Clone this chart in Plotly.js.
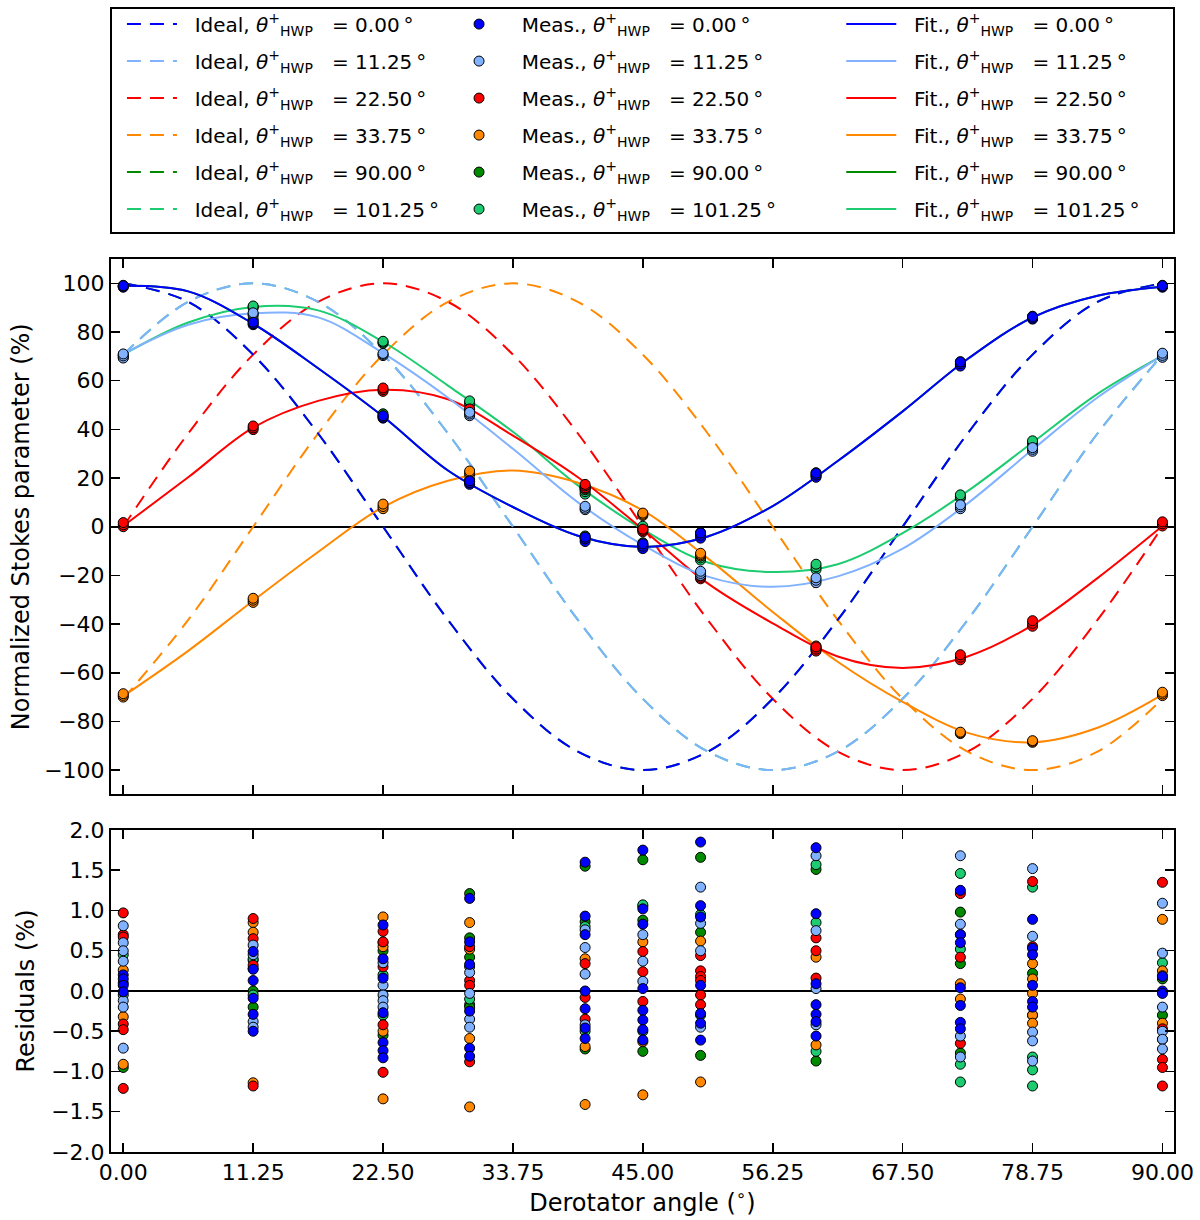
<!DOCTYPE html>
<html>
<head>
<meta charset="utf-8">
<script src="https://cdn.plot.ly/plotly-3.0.1.min.js"></script>
<style>
  html, body { margin: 0; padding: 0; background: #ffffff; }
  #chart { width: 1200px; height: 1220px; }
</style>
</head>
<body>
<div id="chart"></div>
<script>
// ---------------- DATA ----------------
const hwpLabels = ['0.00', '11.25', '22.50', '33.75', '90.00', '101.25'];
const seriesColors = ['#0000ff', '#80b2ff', '#ff0000', '#ff8800', '#008a00', '#1dcc70'];

// x positions for the model curves (derotator angle, deg)
const curveX = [0, 5.625, 11.25, 16.875, 22.5, 28.125, 33.75, 39.375, 45, 50.625, 56.25, 61.875, 67.5, 73.125, 78.75, 84.375, 90];

// Ideal curves (%)
const ideal0   = [100, 92.4, 70.7, 38.3, 0, -38.3, -70.7, -92.4, -100, -92.4, -70.7, -38.3, 0, 38.3, 70.7, 92.4, 100];
const ideal11  = [70.7, 92.4, 100, 92.4, 70.7, 38.3, 0, -38.3, -70.7, -92.4, -100, -92.4, -70.7, -38.3, 0, 38.3, 70.7];
const ideal22  = [0, 38.3, 70.7, 92.4, 100, 92.4, 70.7, 38.3, 0, -38.3, -70.7, -92.4, -100, -92.4, -70.7, -38.3, 0];
const ideal33  = [-70.7, -38.3, 0, 38.3, 70.7, 92.4, 100, 92.4, 70.7, 38.3, 0, -38.3, -70.7, -92.4, -100, -92.4, -70.7];
const ideal90  = [100, 92.4, 70.7, 38.3, 0, -38.3, -70.7, -92.4, -100, -92.4, -70.7, -38.3, 0, 38.3, 70.7, 92.4, 100];
const ideal101 = [70.7, 92.4, 100, 92.4, 70.7, 38.3, 0, -38.3, -70.7, -92.4, -100, -92.4, -70.7, -38.3, 0, 38.3, 70.7];

// Fitted curves (%)
const fit0   = [99, 96.7, 83.4, 65.1, 45.3, 23.1, 8.1, -3.7, -8.3, -4.0, 8.5, 27.0, 47.4, 68.9, 86, 94.9, 98.6];
const fit11  = [71, 83, 87.7, 86, 71.3, 53, 32, 10, -7.5, -20.5, -24.7, -20.4, -9, 9.6, 31.7, 53.1, 70.3];
const fit22  = [0.3, 20.3, 40.7, 51.7, 56.3, 52.4, 37.4, 20.3, -1.1, -23.3, -39.7, -53.3, -58, -53.3, -40.4, -21.1, 0.3];
const fit33  = [-69.6, -51.0, -30.4, -10.4, 8.1, 18.9, 23.1, 18.1, 6.7, -13, -35, -55.5, -72, -84.7, -88.6, -82.6, -69];
const fit90  = [99, 96.7, 83.4, 65.1, 45.3, 23.1, 8.1, -3.7, -8.3, -4.0, 8.5, 27.0, 47.4, 68.9, 86, 94.9, 98.6];
const fit101 = [70.7, 83.9, 90.3, 88.9, 76, 58, 39, 17, -1.1, -14.7, -18.6, -15.4, -2.6, 14.6, 34.6, 54.6, 70.3];

// Measurement derotator angles (deg)
const measX = [0, 11.25, 22.5, 30, 40, 45, 50, 60, 72.5, 78.75, 90];

// Measured normalized Stokes parameter (%), repeated measurements per angle
const meas0 = [[98.4, 98.8, 99.0], [83.0, 83.4, 84.0], [44.6, 45.0, 45.6], [17.4, 18.0, 18.8], [-6.1, -5.0, -4.3], [-9.0, -8.0, -7.0],
  [-4.7, -3.5, -2.6], [20.3, 21.2, 22.0], [66.0, 67.0, 67.7], [85.3, 85.8, 86.3], [98.4, 98.8, 99.0]];
const meas11 = [[69.3, 70.2, 71.0], [86.8, 87.4, 87.9], [70.3, 70.8, 71.2], [45.6, 46.3, 47.0], [7.0, 7.6, 8.4], [-8.6, -8.0, -7.4],
  [-20.0, -19.2, -18.3], [-23.0, -22.0, -21.0], [7.4, 8.2, 9.0], [31.0, 31.8, 32.5], [69.6, 70.4, 71.3]];
const meas22 = [[0.0, 0.8, 1.7], [39.9, 40.6, 41.4], [55.6, 56.3, 57.0], [47.5, 48.0, 48.4], [16.0, 16.8, 17.4], [-2.1, -1.5, -1.0],
  [-21.4, -20.8, -20.2], [-51.1, -50.3, -49.4], [-54.7, -53.6, -52.6], [-40.9, -39.7, -38.6], [0.3, 1.2, 2.0]];
const meas33 = [[-70.0, -69.3, -68.6], [-31.1, -30.2, -29.4], [7.4, 8.3, 9.3], [21.4, 22.2, 22.9], [15.5, 16.0, 16.3], [4.6, 5.1, 5.6],
  [-12.0, -11.5, -10.9], [-50.5, -49.8, -49.0], [-85.0, -84.7, -84.4], [-88.6, -88.2, -87.9], [-69.4, -68.7, -68.0]];
const meas90 = [[98.6, 99.2], [84.6, 85.3], [45.5, 46.4], [18.6, 19.3], [-4.5, -3.8], [-7.4, -6.6],
  [-3.2, -2.4], [21.0, 22.2], [66.5, 67.8], [85.5, 86.5], [98.6, 99.2]];
const meas101 = [[69.5, 70.3, 70.8], [89.8, 90.3, 90.7], [75.3, 75.8, 76.2], [50.3, 51.0, 51.7], [13.4, 14.4, 15.2], [-1.2, -0.4, 0.2],
  [-13.7, -12.8, -12.0], [-17.6, -16.5, -15.4], [11.7, 12.4, 13.1], [33.9, 34.6, 35.3], [69.8, 70.5, 71.0]];

// Residuals (%) per angle
const res0 = [[0.20, 0.15, 0.07, -0.01], [0.49, 0.27, 0.13, -0.09, -0.29, -0.50], [0.82, 0.40, 0.16, -0.27, -0.64, -0.74, -0.83],
  [1.15, 0.61, 0.33, -0.25, -0.71, -0.81], [1.60, 0.93, 0.70, 0.00, -0.22, -0.46, -0.59], [1.75, 1.02, 0.83, 0.03, -0.24, -0.36, -0.48, -0.61],
  [1.85, 1.06, 0.92, 0.07, -0.28, -0.40, -0.61], [1.78, 0.96, 0.09, -0.17, -0.29, -0.38, -0.56], [1.25, 0.70, 0.60, 0.04, -0.18, -0.39, -0.47],
  [0.89, 0.53, 0.45, 0.07, -0.13, -0.20], [0.18, 0.00, -0.03]];
const res11 = [[0.81, 0.60, 0.50, 0.37, -0.12, -0.20, -0.71], [0.57, 0.45, -0.38, -0.45], [0.35, 0.07, -0.05, -0.12, -0.20],
  [0.23, -0.03, -0.35, -0.45], [0.76, 0.54, 0.21, -0.42], [0.70, 0.37, 0.12], [1.29, 0.84, 0.50, -0.45], [1.68, 0.75, 0.03, -0.42],
  [1.68, 0.83, 0.70, -0.56, -0.82], [1.52, 0.68, -0.51, -0.62, -0.87], [1.09, 0.47, -0.20, -0.50, -0.60, -0.72]];
const res22 = [[0.97, 0.70, 0.67, -0.41, -0.48, -1.21], [0.90, 0.65, 0.32, -1.18], [0.74, 0.61, 0.30, -0.42, -1.01], [0.55, 0.13, 0.07, -0.88],
  [0.34, -0.08, -0.35], [0.49, 0.24, -0.13], [0.44, 0.25, 0.18, 0.13, -0.05, -0.17], [0.66, 0.50, 0.16], [1.21, 0.42, -0.65],
  [1.36, 0.55], [1.35, -0.47, -0.85, -0.95, -1.18]];
const res33 = [[0.26, -0.32, -0.91], [0.85, 0.73, 0.28, -1.14], [0.92, 0.60, 0.55, -0.50, -1.34], [0.85, 0.52, -0.59, -1.44],
  [0.40, -0.69, -1.41], [0.61, -0.63, -1.29], [0.62, -1.13], [0.42, -0.67], [0.09, -0.10], [0.34, 0.15, -0.03, -0.30, -0.40],
  [0.89, 0.25, 0.19, -0.40]];
const res90 = [[0.10, -0.95], [0.38, 0.00, -0.20], [0.50, -0.55], [1.21, 0.66, 0.42, -0.17, -0.20], [1.55, 0.86, -0.72],
  [1.63, 1.05, 0.88, -0.75], [1.66, 0.73, -0.80], [1.51, -0.87], [0.98, 0.34, -0.77], [0.22, -0.30], [0.15, -0.30]];
const res101 = [[0.45, -0.05], [0.40, -0.05], [0.20, -0.30], [0.30, -0.10], [0.80, -0.50], [1.07, -0.50], [0.95, -0.30],
  [1.57, 0.85, -0.75], [1.46, 0.52, -0.91, -1.13], [1.29, -0.82, -0.98, -1.18], [0.35, -0.60]];

const xTickVals = [0, 11.25, 22.5, 33.75, 45, 56.25, 67.5, 78.75, 90];

// ---------------- BUILD ----------------
const idealSets = [ideal0, ideal11, ideal22, ideal33, ideal90, ideal101];
const fitSets = [fit0, fit11, fit22, fit33, fit90, fit101];
const measSets = [meas0, meas11, meas22, meas33, meas90, meas101];
const resSets = [res0, res11, res22, res33, res90, res101];
const drawOrder = [4, 5, 3, 2, 1, 0];

function flatten(sets) {
  const xs = [], ys = [];
  sets.forEach((vals, i) => vals.forEach(v => { xs.push(measX[i]); ys.push(v); }));
  return {x: xs, y: ys};
}
const NB = '\u00a0';
function label(kind, i) {
  return NB + NB + kind + ', <i>θ</i><sup>+</sup><sub>HWP</sub>' + NB + NB + NB + '= ' + hwpLabels[i] + '\u2009°';
}

const traces = [];
drawOrder.forEach(i => {
  traces.push({
    type: 'scatter', mode: 'lines', x: curveX, y: idealSets[i],
    line: {color: seriesColors[i], width: 2, dash: '14px,9px', shape: 'spline', smoothing: 1},
    name: label('Ideal', i), legend: 'legend', legendgroup: 'i' + i, legendrank: i + 1,
    xaxis: 'x', yaxis: 'y', hoverinfo: 'skip'
  });
});
drawOrder.forEach(i => {
  traces.push({
    type: 'scatter', mode: 'lines', x: curveX, y: fitSets[i],
    line: {color: seriesColors[i], width: 2, shape: 'spline', smoothing: 1},
    name: label('Fit.', i), legend: 'legend3', legendgroup: 'f' + i, legendrank: i + 1,
    xaxis: 'x', yaxis: 'y', hoverinfo: 'skip'
  });
});
drawOrder.forEach(i => {
  const f = flatten(measSets[i]);
  traces.push({
    type: 'scatter', mode: 'markers', x: f.x, y: f.y,
    marker: {color: seriesColors[i], size: 10, line: {color: '#000000', width: 1}},
    name: label('Meas.', i), legend: 'legend2', legendgroup: 'm' + i, legendrank: i + 1,
    xaxis: 'x', yaxis: 'y', hoverinfo: 'skip'
  });
});
drawOrder.forEach(i => {
  const f = flatten(resSets[i]);
  traces.push({
    type: 'scatter', mode: 'markers', x: f.x, y: f.y,
    marker: {color: seriesColors[i], size: 10, line: {color: '#000000', width: 1}},
    showlegend: false, xaxis: 'x2', yaxis: 'y2', hoverinfo: 'skip'
  });
});

const tickFont = {family: 'DejaVu Sans, sans-serif', size: 22, color: '#000000'};
const titleFont = {family: 'DejaVu Sans, sans-serif', size: 24, color: '#000000'};
const axisCommon = {
  showline: true, linecolor: '#000000', linewidth: 2, mirror: 'ticks',
  ticks: 'inside', ticklen: 9, tickwidth: 1.5, tickcolor: '#000000',
  showgrid: false, tickfont: tickFont
};
const legendCommon = {
  orientation: 'v', borderwidth: 0, bgcolor: 'rgba(0,0,0,0)', font: {family: 'DejaVu Sans, sans-serif', size: 20, color: '#000'},
  tracegroupgap: 8, itemwidth: 50, yanchor: 'top', y: 1.2849, xanchor: 'left', traceorder: 'grouped'
};

const layout = {
  width: 1200, height: 1220,
  margin: {l: 111, r: 26, t: 259, b: 68, autoexpand: false},
  paper_bgcolor: '#ffffff', plot_bgcolor: '#ffffff',
  font: tickFont,
  showlegend: true,
  legend: Object.assign({}, legendCommon, {x: 0.0103}),
  legend2: Object.assign({}, legendCommon, {x: 0.318}),
  legend3: Object.assign({}, legendCommon, {x: 0.687}),
  xaxis: Object.assign({}, axisCommon, {
    domain: [0, 1], range: [-1.06, 91.0], tickvals: xTickVals, showticklabels: false, anchor: 'y', zeroline: false
  }),
  yaxis: Object.assign({}, axisCommon, {
    domain: [0.4004, 1], range: [-110, 110], dtick: 20, tick0: 0, anchor: 'x',
    zeroline: true, zerolinecolor: '#000000', zerolinewidth: 2,
    title: {text: 'Normalized Stokes parameter (%)', font: titleFont, standoff: 8}
  }),
  xaxis2: Object.assign({}, axisCommon, {
    domain: [0, 1], range: [-1.06, 91.0], tickvals: xTickVals, tickformat: '.2f', anchor: 'y2', matches: 'x', zeroline: false,
    title: {text: 'Derotator angle (<sup>∘</sup>)', font: titleFont, standoff: 8}
  }),
  yaxis2: Object.assign({}, axisCommon, {
    domain: [0, 0.3606], range: [-2, 2], dtick: 0.5, tick0: 0, tickformat: '.1f', anchor: 'x2',
    zeroline: true, zerolinecolor: '#000000', zerolinewidth: 2,
    title: {text: 'Residuals (%)', font: titleFont, standoff: 10}
  }),
  shapes: [{
    type: 'rect', xref: 'paper', yref: 'paper', x0: 0, x1: 1, y0: 1.0291, y1: 1.2811,
    line: {color: '#000000', width: 2}, fillcolor: 'rgba(0,0,0,0)'
  }]
};

Plotly.newPlot('chart', traces, layout, {staticPlot: true, displayModeBar: false});
</script>
</body>
</html>
